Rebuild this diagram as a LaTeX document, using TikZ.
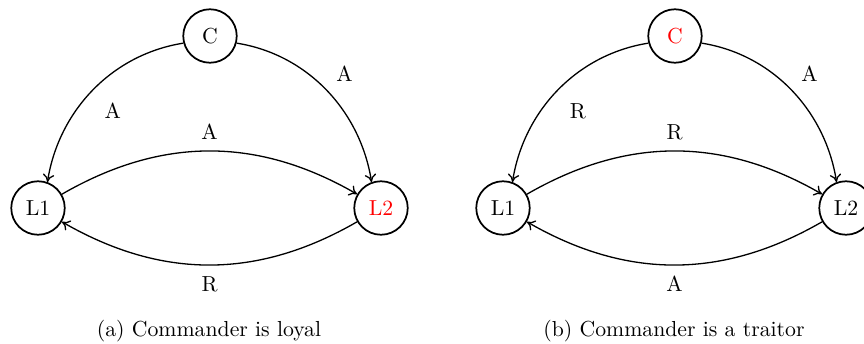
\documentclass[tikz,border=0pt]{standalone}
\usetikzlibrary{arrows.meta}
\begin{document}
\begin{tikzpicture}[x=0.46pt,y=-0.46pt,
  >={To[length=3.6pt,width=5.2pt]},
  agent/.style={circle,draw,thick,minimum size=24.6pt,inner sep=0pt,font=\normalsize},
  msg/.style={->,semithick},
  lbl/.style={font=\normalsize,inner sep=0pt},
  traitor/.style={text=red}]
\useasboundingbox (0,0) rectangle (864,344);
% ---- (a) ----
\node[agent] (Ca) at (210,36) {C};
\node[agent] (L1a) at (38,208) {L1};
\node[agent,traitor] (L2a) at (381,208) {L2};
\draw[msg] (Ca.195) to[out=189,in=81,looseness=0.95] node[lbl,pos=0.5,xshift=9.2pt,yshift=-9.7pt] {A} (L1a.70);
\draw[msg] (Ca.-15) to[out=-9,in=99,looseness=0.95] node[lbl,pos=0.5,xshift=8.3pt,yshift=7.8pt] {A} (L2a.110);
\draw[msg] (L1a) to[bend left=30] node[lbl,pos=0.5,yshift=8.7pt] {A} (L2a);
\draw[msg] (L2a) to[bend left=30] node[lbl,pos=0.5,yshift=-8.7pt] {R} (L1a);
\node[lbl,anchor=base] (capa) at (209,336) {(a) Commander is loyal};
% ---- (b) ----
\node[agent,traitor] (Cb) at (675,36) {C};
\node[agent] (L1b) at (503,208) {L1};
\node[agent] (L2b) at (846,208) {L2};
\draw[msg] (Cb.195) to[out=189,in=81,looseness=0.95] node[lbl,pos=0.5,xshift=9.2pt,yshift=-9.7pt] {R} (L1b.70);
\draw[msg] (Cb.-15) to[out=-9,in=99,looseness=0.95] node[lbl,pos=0.5,xshift=8.3pt,yshift=7.8pt] {A} (L2b.110);
\draw[msg] (L1b) to[bend left=30] node[lbl,pos=0.5,yshift=8.7pt] {R} (L2b);
\draw[msg] (L2b) to[bend left=30] node[lbl,pos=0.5,yshift=-8.7pt] {A} (L1b);
\node[lbl,anchor=base] (capb) at (674,336) {(b) Commander is a traitor};
\end{tikzpicture}
\end{document}
